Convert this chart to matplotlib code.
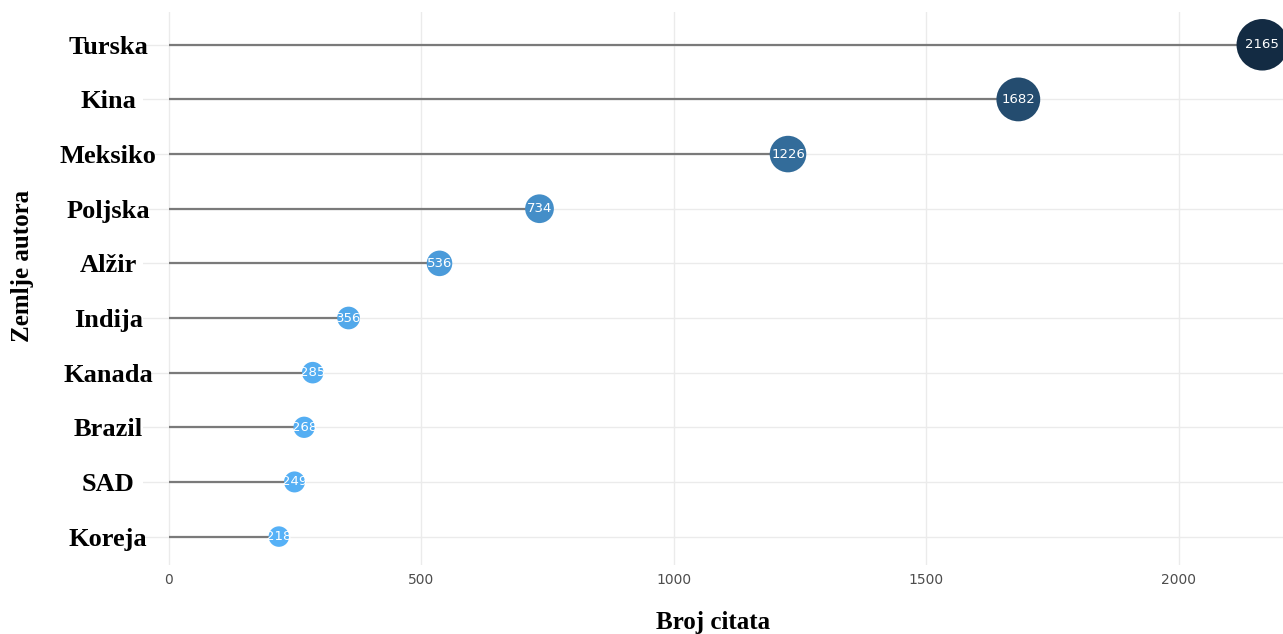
import numpy as np
import matplotlib.pyplot as plt
from matplotlib.colors import LinearSegmentedColormap

# podaci
zemlje = ['Turska', 'Kina', 'Meksiko', 'Poljska', 'Alžir', 'Indija', 'Kanada', 'Brazil', 'SAD', 'Koreja']
citati = [2165, 1682, 1226, 734, 536, 356, 285, 268, 249, 218]
x_ticks = [0, 500, 1000, 1500, 2000]

# od najmanjeg prema gore
zemlje_r = zemlje[::-1]
citati_r = np.array(citati[::-1])
y = np.arange(len(zemlje_r))

cmap = LinearSegmentedColormap.from_list('gg', ['#56B1F7', '#132B43'])
norm = (citati_r - citati_r.min()) / (citati_r.max() - citati_r.min())
boje = cmap(norm)

# promjer kruga linearno s vrijednosti (px -> pt)
d_px = 20.5 + (citati_r - 218) * (31 / 1947)
s = (d_px * 0.72) ** 2

fig = plt.figure(figsize=(12.83, 6.34), dpi=100)
ax = fig.add_axes([143 / 1283, 1 - 565 / 634, 1 - 143 / 1283, (565 - 12) / 634])

ax.hlines(y, 0, citati_r, color='#7a7a7a', linewidth=1.6, zorder=2)
ax.scatter(citati_r, y, s=s, c=boje, zorder=3, linewidths=0, clip_on=False)
for xi, yi in zip(citati_r, y):
    ax.text(xi, yi, str(xi), color='white', ha='center', va='center', fontsize=9.5, zorder=4, clip_on=False)

ax.set_xlim(-51, 2206)
ax.set_ylim(-0.52, 9.6)
ax.set_xticks(x_ticks)
ax.set_xticklabels([str(t) for t in x_ticks], color='#4d4d4d', fontsize=10)
ax.set_yticks(y)
ax.set_yticklabels(zemlje_r, fontsize=19, fontweight='bold', family='Liberation Serif', ha='center')
ax.tick_params(axis='y', length=0, pad=25)
ax.tick_params(axis='x', length=0, pad=6)

ax.grid(True, color='#ebebeb', linewidth=1.0, zorder=0)
ax.set_axisbelow(True)
for sp in ax.spines.values():
    sp.set_visible(False)

ax.set_xlabel('Broj citata', fontsize=18, fontweight='bold', family='Liberation Serif', labelpad=17)
ax.set_ylabel('Zemlje autora', fontsize=18, fontweight='bold', family='Liberation Serif')
ax.yaxis.set_label_coords(-0.096, 0.54)

plt.savefig('out.png', dpi=100)
